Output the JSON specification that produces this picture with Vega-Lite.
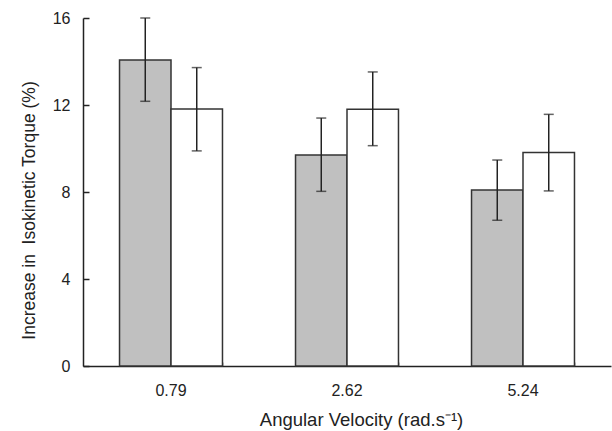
{
  "$schema": "https://vega.github.io/schema/vega-lite/v6.json",
  "autosize": "none",
  "width": 528,
  "height": 348,
  "padding": {"left": 83, "top": 18, "right": 1, "bottom": 65},
  "background": "white",
  "config": {
    "view": {"stroke": null},
    "font": "Liberation Sans",
    "axis": {"domainColor": "#222", "tickColor": "#222", "labelColor": "#222", "titleColor": "#222", "labelFont": "Liberation Sans", "titleFont": "Liberation Sans", "titleFontWeight": "normal", "domainWidth": 1.5, "tickWidth": 1.5}
  },
  "data": {
    "values": [
      {"velocity": "0.79", "group": "A", "value": 14.07, "lo": 12.17, "hi": 16.0},
      {"velocity": "0.79", "group": "B", "value": 11.82, "lo": 9.89, "hi": 13.72},
      {"velocity": "2.62", "group": "A", "value": 9.70, "lo": 8.03, "hi": 11.40},
      {"velocity": "2.62", "group": "B", "value": 11.80, "lo": 10.13, "hi": 13.52},
      {"velocity": "5.24", "group": "A", "value": 8.09, "lo": 6.70, "hi": 9.47},
      {"velocity": "5.24", "group": "B", "value": 9.82, "lo": 8.05, "hi": 11.57}
    ]
  },
  "encoding": {
    "xOffset": {"field": "group", "type": "nominal", "scale": {"paddingInner": 0, "paddingOuter": 0}}
  },
  "resolve": {"scale": {"x": "independent", "y": "independent"}, "axis": {"x": "independent", "y": "independent"}},
  "layer": [
    {
      "mark": {"type": "bar", "stroke": "#333", "strokeWidth": 1.5},
      "encoding": {
        "x": {
          "field": "velocity", "type": "nominal",
          "scale": {"paddingInner": 0.415, "paddingOuter": 0.2075},
          "axis": {"orient": "bottom", "title": "Angular Velocity (rad.s⁻¹)", "labelAngle": 0, "ticks": false, "labelPadding": 16, "labelFontSize": 16, "titleFontSize": 18.5, "titlePadding": 12, "titleX": 278}
        },
        "y": {
          "field": "value", "type": "quantitative",
          "scale": {"domain": [0, 16]},
          "axis": {"orient": "left", "title": "Increase in \u00a0Isokinetic Torque (%)", "values": [0, 4, 8, 12, 16], "grid": false, "ticks": false, "labelPadding": 13, "labelFontSize": 16, "titleFontSize": 17.5, "titlePadding": 14, "titleY": 192}
        },
        "fill": {"field": "group", "type": "nominal", "scale": {"domain": ["A", "B"], "range": ["#c0c0c0", "#ffffff"]}, "legend": null}
      }
    },
    {
      "mark": {"type": "rule", "color": "#222", "strokeWidth": 1.5},
      "encoding": {
        "x": {
          "field": "velocity", "type": "nominal",
          "scale": {"paddingInner": 0.415, "paddingOuter": 0.2075},
          "axis": {"orient": "bottom", "title": null, "labels": false, "domain": false, "tickBand": "extent", "tickSize": 4, "offset": -4}
        },
        "y": {
          "field": "lo", "type": "quantitative",
          "scale": {"domain": [0, 16]},
          "axis": {"orient": "left", "title": null, "labels": false, "domain": false, "grid": false, "values": [0, 4, 8, 12, 16], "tickSize": 6, "offset": -6}
        },
        "y2": {"field": "hi"}
      }
    },
    {
      "mark": {"type": "tick", "color": "#222", "size": 10, "thickness": 1.5, "orient": "horizontal"},
      "encoding": {
        "x": {"field": "velocity", "type": "nominal", "scale": {"paddingInner": 0.415, "paddingOuter": 0.2075}, "axis": null},
        "y": {"field": "lo", "type": "quantitative", "scale": {"domain": [0, 16]}, "axis": null}
      }
    },
    {
      "mark": {"type": "tick", "color": "#222", "size": 10, "thickness": 1.5, "orient": "horizontal"},
      "encoding": {
        "x": {"field": "velocity", "type": "nominal", "scale": {"paddingInner": 0.415, "paddingOuter": 0.2075}, "axis": null},
        "y": {"field": "hi", "type": "quantitative", "scale": {"domain": [0, 16]}, "axis": null}
      }
    }
  ]
}
